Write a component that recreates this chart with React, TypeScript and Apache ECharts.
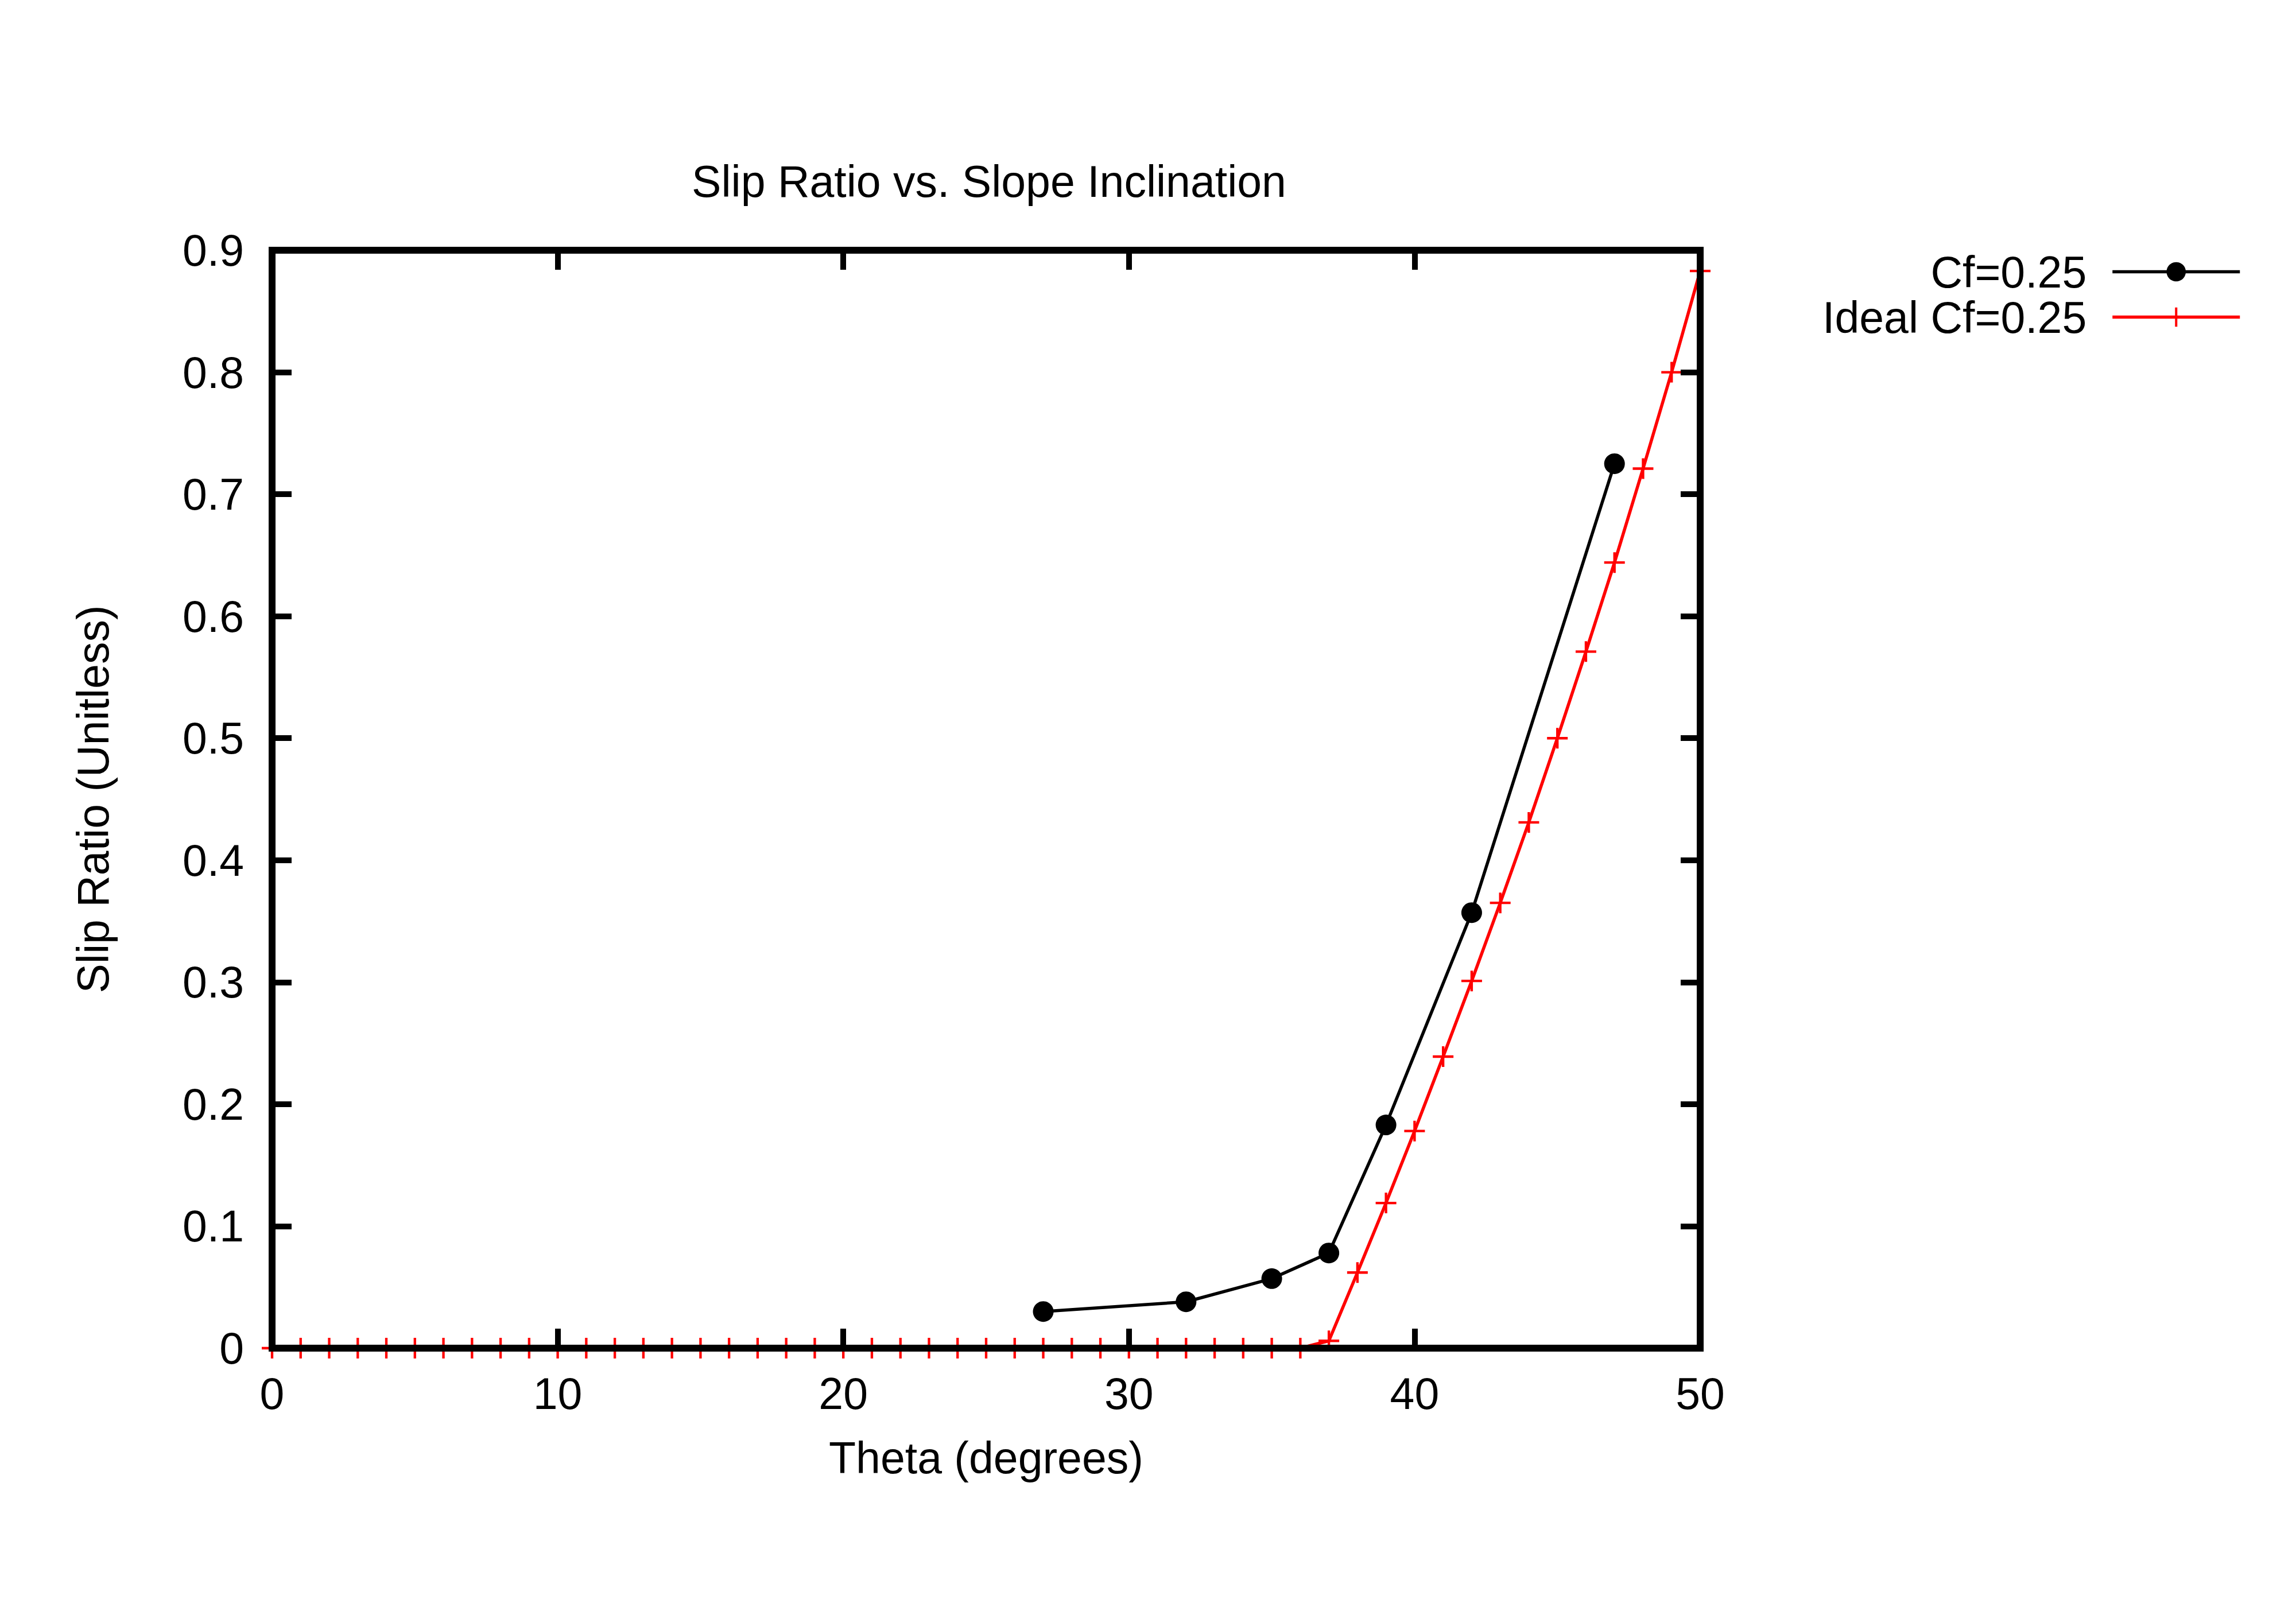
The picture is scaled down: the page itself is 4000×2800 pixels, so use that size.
import { useEffect, useRef } from 'react';
import * as echarts from 'echarts';

const FONT = '"Liberation Sans", Arial, Helvetica, sans-serif';

// measured run (Cf = 0.25)
const thetaMeasured = [27, 32, 35, 37, 39, 42, 47];
const slipMeasured = [0.03, 0.038, 0.057, 0.078, 0.183, 0.357, 0.725];

// ideal curve, one point per degree 0..50
const thetaIdeal = [
  0, 1, 2, 3, 4, 5, 6, 7, 8, 9, 10, 11, 12, 13, 14, 15, 16, 17, 18, 19, 20, 21, 22, 23, 24, 25,
  26, 27, 28, 29, 30, 31, 32, 33, 34, 35, 36, 37, 38, 39, 40, 41, 42, 43, 44, 45, 46, 47, 48, 49, 50,
];
const slipIdeal = [
  0, 0, 0, 0, 0, 0, 0, 0, 0, 0, 0, 0, 0, 0, 0, 0, 0, 0, 0, 0, 0, 0, 0, 0, 0, 0,
  0, 0, 0, 0, 0, 0, 0, 0, 0, 0, 0, 0.006, 0.062, 0.119, 0.178, 0.239, 0.301, 0.365, 0.431, 0.5,
  0.571, 0.644, 0.721, 0.8, 0.883,
];

const seriesNames = ['Cf=0.25', 'Ideal Cf=0.25'];

// filled cross so it renders as a solid "+"
const PLUS =
  'path://M-1.2,-10 L1.2,-10 L1.2,-1.2 L10,-1.2 L10,1.2 L1.2,1.2 L1.2,10 L-1.2,10 L-1.2,1.2 L-10,1.2 L-10,-1.2 L-1.2,-1.2 Z';

function zip(xs: number[], ys: number[]) {
  return xs.map((x, i) => [x, ys[i]]);
}

export default function App() {
  const elRef = useRef<HTMLDivElement>(null);

  useEffect(() => {
    const el = elRef.current;
    if (!el) return;
    const chart = echarts.init(el, undefined, { renderer: 'svg' });

    const text = { fontFamily: FONT, fontSize: 77, color: '#000' };
    const border = {
      show: true,
      onZero: false,
      lineStyle: { color: '#000', width: 12, cap: 'square' as const },
    };
    const tick = { show: true, inside: true, length: 34, lineStyle: { color: '#000', width: 10 } };
    const lineW = 5.5;

    const legendBase = {
      orient: 'vertical' as const,
      align: 'right' as const,
      right: 90,
      itemWidth: 222,
      itemHeight: 42,
      textStyle: { ...text, padding: [0, 40, 0, 0] },
      lineStyle: { width: lineW },
      selectedMode: false as const,
    };

    chart.setOption({
      animation: false,
      backgroundColor: '#fff',
      title: {
        text: 'Slip Ratio vs. Slope Inclination',
        left: 1718,
        top: 272,
        textAlign: 'center',
        textStyle: { ...text, fontWeight: 'normal' },
      },
      legend: [
        { ...legendBase, top: 430, data: [seriesNames[0]] },
        { ...legendBase, top: 509, data: [seriesNames[1]] },
      ],
      grid: { left: 474, right: 1038, top: 436, bottom: 451, containLabel: false },
      xAxis: [
        {
          type: 'value',
          min: 0,
          max: 50,
          interval: 10,
          z: 5,
          name: 'Theta (degrees)',
          nameLocation: 'middle',
          nameGap: 152,
          nameTextStyle: text,
          axisLine: border,
          axisTick: tick,
          axisLabel: { ...text, margin: 40 },
          splitLine: { show: false },
        },
        {
          type: 'value',
          position: 'top',
          min: 0,
          max: 50,
          interval: 10,
          z: 5,
          axisLine: border,
          axisTick: tick,
          axisLabel: { show: false },
          splitLine: { show: false },
        },
      ],
      yAxis: [
        {
          type: 'value',
          min: 0,
          max: 0.9,
          interval: 0.1,
          z: 5,
          name: 'Slip Ratio (Unitless)',
          nameLocation: 'middle',
          nameGap: 274,
          nameTextStyle: text,
          axisLine: border,
          axisTick: tick,
          axisLabel: {
            ...text,
            margin: 49,
            formatter: (v: number) => (v === 0 ? '0' : v.toFixed(1)),
          },
          splitLine: { show: false },
        },
        {
          type: 'value',
          position: 'right',
          min: 0,
          max: 0.9,
          interval: 0.1,
          z: 5,
          axisLine: border,
          axisTick: tick,
          axisLabel: { show: false },
          splitLine: { show: false },
        },
      ],
      series: [
        {
          name: seriesNames[0],
          type: 'line',
          data: zip(thetaMeasured, slipMeasured),
          symbol: 'circle',
          symbolSize: 36,
          clip: false,
          lineStyle: { color: '#000', width: lineW },
          itemStyle: { color: '#000' },
        },
        {
          name: seriesNames[1],
          type: 'line',
          data: zip(thetaIdeal, slipIdeal),
          symbol: PLUS,
          symbolSize: 36,
          clip: false,
          lineStyle: { color: '#ff0000', width: lineW },
          itemStyle: { color: '#ff0000' },
        },
      ],
    });

    return () => chart.dispose();
  }, []);

  return (
    <div
      ref={elRef}
      style={{ position: 'fixed', left: 0, top: 0, width: 4000, height: 2800, background: '#fff' }}
    />
  );
}
